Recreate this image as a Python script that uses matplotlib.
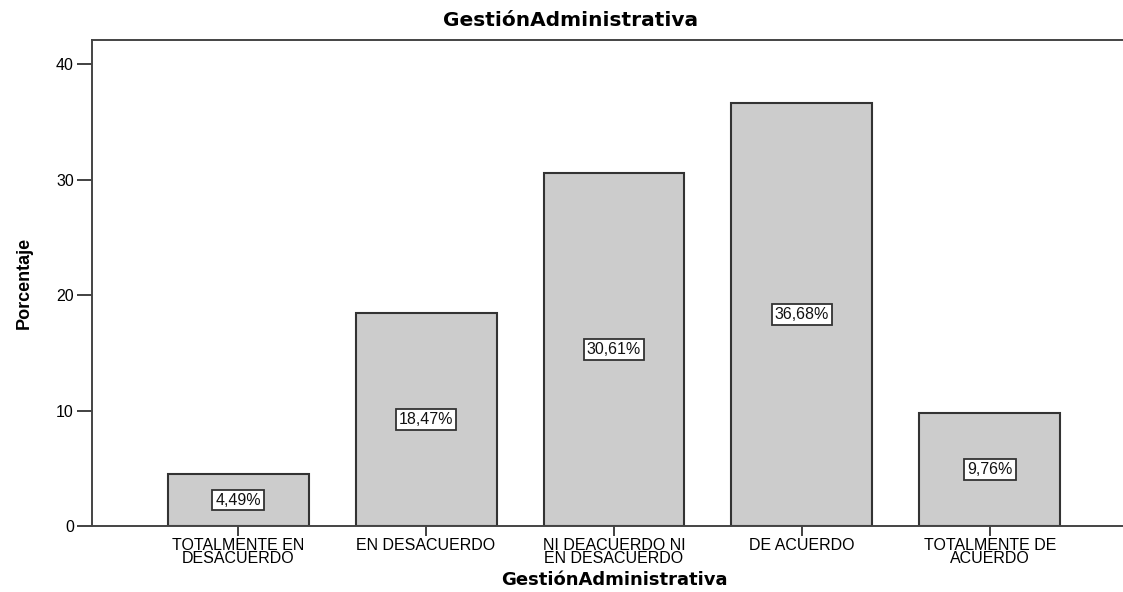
import matplotlib
matplotlib.use("Agg")
import matplotlib.pyplot as plt

categories = ["TOTALMENTE EN\nDESACUERDO", "EN DESACUERDO", "NI DEACUERDO NI\nEN DESACUERDO",
              "DE ACUERDO", "TOTALMENTE DE\nACUERDO"]
percentages = [4.49, 18.47, 30.61, 36.68, 9.76]
y_ticks = [0, 10, 20, 30, 40]

plt.rcParams["font.family"] = ["Liberation Sans", "DejaVu Sans"]

W, H = 1123, 592
fig = plt.figure(figsize=(W / 100, H / 100), dpi=100)
left, right, top, bottom = 92, 1136, 40, 526
ax = fig.add_axes([left / W, 1 - bottom / H, (right - left) / W, (bottom - top) / H])

x = list(range(len(categories)))
ax.bar(x, percentages, width=0.75, color="#cccccc", edgecolor="#333333", linewidth=1.5, zorder=2)

# percentage labels in white boxes at mid-height of each bar
for xi, v in zip(x, percentages):
    ax.text(xi, v / 2, f"{v:.2f}%".replace(".", ","), ha="center", va="center", fontsize=11.5,
            color="#111111", zorder=3,
            bbox=dict(boxstyle="square,pad=0.18", facecolor="white", edgecolor="#333333", linewidth=1.3))

ax.set_xlim(-0.777, 4.777)
ax.set_ylim(0, 42.1)
ax.set_yticks(y_ticks)
ax.set_xticks(x)
ax.set_xticklabels(categories, fontsize=11.5, linespacing=0.78)
ax.tick_params(axis="y", labelsize=11.5, length=11, width=1.3, color="#333333", pad=2)
ax.tick_params(axis="x", length=7, width=1.3, color="#333333", pad=2)

for s in ["left", "top", "bottom"]:
    ax.spines[s].set_color("#444444")
    ax.spines[s].set_linewidth(1.4)
ax.spines["right"].set_visible(False)

ax.set_xlabel("GestiónAdministrativa", fontsize=13, fontweight="bold", family=["DejaVu Sans"])
ax.xaxis.set_label_coords(0.5, (bottom - 571) / (bottom - top))
ax.set_ylabel("Porcentaje", fontsize=13, fontweight="bold", labelpad=17)
fig.text(571 / W, 1 - 20 / H, "GestiónAdministrativa", ha="center", va="center",
         fontsize=14.5, fontweight="bold", family=["DejaVu Sans"])

fig.savefig("out.png", dpi=100)
